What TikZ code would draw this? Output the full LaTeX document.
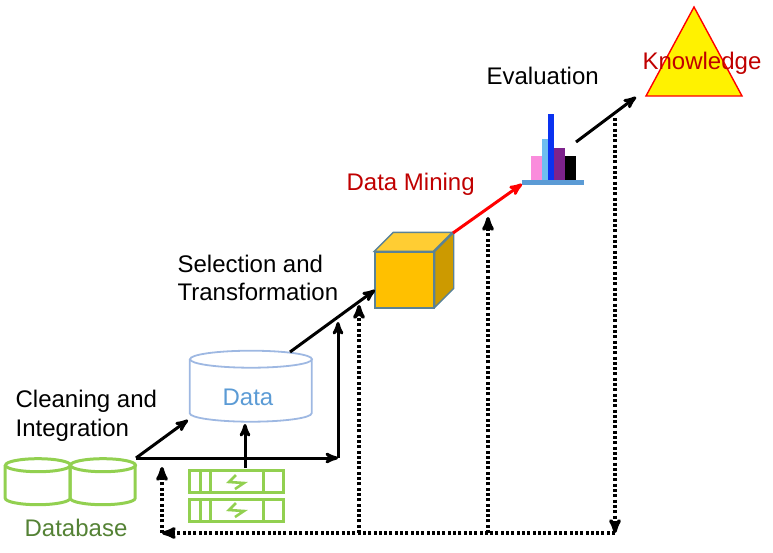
\documentclass[tikz,border=0pt]{standalone}
\usepackage{fontspec}
\setmainfont{Liberation Sans}
\usetikzlibrary{arrows,positioning}
\definecolor{dbgreen}{RGB}{146,208,80}
\definecolor{dbtext}{RGB}{84,130,53}
\definecolor{datablue}{RGB}{158,184,226}
\definecolor{datatext}{RGB}{91,155,213}
\definecolor{cubefront}{RGB}{255,192,0}
\definecolor{cubetop}{RGB}{255,205,51}
\definecolor{cubeside}{RGB}{204,154,0}
\definecolor{cubeline}{RGB}{90,130,150}
\definecolor{minered}{RGB}{192,0,0}
\definecolor{barpink}{RGB}{250,140,220}
\definecolor{barsky}{RGB}{110,190,240}
\definecolor{barblue}{RGB}{10,50,240}
\definecolor{barpurple}{RGB}{125,35,140}
% drum: name, center x, top y, width, height, ellipse radius, style
\newcommand{\drum}[7]{
  \node[minimum width=#4pt,minimum height=#5pt,inner sep=0pt] (#1) at (#2,#3+#5/2) {};
  \draw[-,#7] (#1.north west) ++(0,#6) -- ++(0,#5-2*#6) arc (180:0:#4/2 and #6) -- ++(0,-#5+2*#6);
  \draw[-,#7] (#1.north) ++(0,#6) ellipse (#4/2 and #6);
}
\begin{document}
\begin{tikzpicture}[x=1pt,y=-1pt,->,>=stealth',semithick]
\tikzstyle{every node}=[font=\fontsize{24pt}{28pt}\selectfont]
\tikzset{step line/.style={line width=3pt,black}}
\tikzset{dot line/.style={line width=3.4pt,black,dash pattern=on 3pt off 2.3pt}}
\tikzset{drum green/.style={draw=dbgreen,line width=3pt}}
\tikzset{drum blue/.style={draw=datablue,line width=1.8pt}}
\tikzset{srv/.style={-,draw=dbgreen,line width=3pt}}
\tikzset{srv box/.style={draw=dbgreen,line width=3pt,minimum width=94pt,minimum height=22pt,inner sep=0pt}}
\tikzset{bolt/.style={-,draw=dbgreen,line width=2.6pt}}
\tikzset{bar/.style={draw=none,minimum width=#1,inner sep=0pt,anchor=south west}}
\useasboundingbox (0,0) rectangle (773,552);

        % database and server boxes
        \drum{db1}{38}{459}{65}{46}{6.5}{drum green}
        \drum{db2}{103}{459}{65}{46}{6.5}{drum green}
        \node[text=dbtext]                           (dbtxt) at (76,528)      {Database};

        \node[srv box]  (srv1)  at (236.5,481.5) {};
        \node[srv box]  (srv2)  at (236.5,510) {};
        \draw[srv] (200,470) -- (200,493) (210,470) -- (210,493) (263.5,470) -- (263.5,493);
        \draw[srv] (200,499) -- (200,521) (210,499) -- (210,521) (263.5,499) -- (263.5,521);
        \draw[bolt] (236,475) -- (229,482) -- (244,483) -- (235,489);
        \draw[bolt] (236,503) -- (229,510) -- (244,511) -- (235,517);

        % data
        \drum{data}{251}{351}{122}{71}{8.5}{drum blue}
        \node[text=datatext]                         (datatxt) at (248,397)   {Data};

        % cube
        \node[draw=cubeline,fill=cubefront,line width=1.4pt,minimum width=59pt,minimum height=56pt,inner sep=0pt] (cube) at (404.5,280) {};
        \draw[-,draw=cubeline,fill=cubetop,line width=1.4pt] (cube.north west) -- ++(19,-19) -- ++(59,0) -- ++(-19,19) -- cycle;
        \draw[-,draw=cubeline,fill=cubeside,line width=1.4pt] (cube.north east) -- ++(19,-19) -- ++(0,56) -- ++(-19,19) -- cycle;

        % bar chart
        \node[fill=datatext,draw=none,minimum width=62pt,minimum height=5pt,inner sep=0pt] (chart) at (553,182.5) {};
        \node[bar=12pt,fill=barpink,minimum height=24pt]     (b1) at (531,180) {};
        \node[bar=6pt,fill=barsky,minimum height=41pt]       (b2) at (542,180) {};
        \node[bar=6pt,fill=barblue,minimum height=66pt]      (b3) at (548,180) {};
        \node[bar=11pt,fill=barpurple,minimum height=32pt]   (b4) at (554,180) {};
        \node[bar=11pt,fill=black,minimum height=24pt]       (b5) at (565,180) {};

        % knowledge
        \draw[-,draw=red,fill=yellow,line width=1.4pt] (694,7) -- (742,96) -- (646,96) -- cycle;
        \node[text=minered]                          (know)   at (702,63)     {Knowledge};

        % labels
        \node[anchor=west]                           (clean)  at (12,401)     {Cleaning and};
        \node[anchor=west]                           (integ)  at (12,430)     {Integration};
        \node[anchor=west]                           (select) at (174,264)    {Selection and};
        \node[anchor=west]                           (trans)  at (174,292)    {Transformation};
        \node[anchor=west,text=minered]              (mine)   at (343,184)    {Data Mining};
        \node[anchor=west]                           (eval)   at (483,76)     {Evaluation};

        % free ends of the connectors
        \coordinate (start)  at (136,458);
        \coordinate (corner) at (338,458);
        \coordinate (top)    at (338,322);
        \coordinate (dataIn) at (188,420);
        \coordinate (srvOut) at (245,468);
        \coordinate (dataTp) at (245,424);
        \coordinate (dataOut) at (290,352);
        \coordinate (cubeIn) at (375,290);
        \coordinate (cubeOut) at (453,233);
        \coordinate (chartIn) at (522,184);
        \coordinate (chartOut) at (576,142);
        \coordinate (triIn)  at (636,97);
        \coordinate (d0) at (615,533);
        \coordinate (d1) at (615,118);
        \coordinate (d2) at (162,533);
        \coordinate (d3) at (162,467);
        \coordinate (d4) at (359,533);
        \coordinate (d5) at (359,305);
        \coordinate (d6) at (488,533);
        \coordinate (d7) at (488,217);

        \path[step line]
        (start)    edge (dataIn)
        (start)    edge (corner)
        (corner)   edge (top)
        (srvOut)   edge (dataTp)
        (dataOut)  edge (cubeIn)
        (chartOut) edge (triIn)
        ; %end path

        \draw[step line,red] (cubeOut) -- (chartIn);

        \draw[dot line] (d1) -- (d0);
        \draw[dot line] (d0) -- (d2);
        \draw[dot line] (d2) -- (d3);
        \draw[dot line] (d4) -- (d5);
        \draw[dot line] (d6) -- (d7);

\end{tikzpicture}
\end{document}
